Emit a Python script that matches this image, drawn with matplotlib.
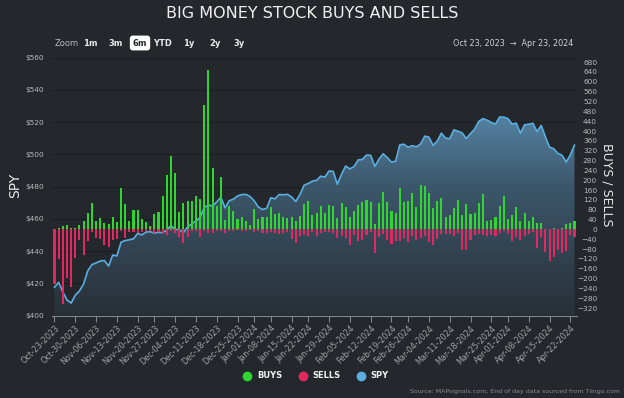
import numpy as np
import pandas as pd
import matplotlib
matplotlib.use('Agg')
import matplotlib.pyplot as plt
from matplotlib.colors import LinearSegmentedColormap
from matplotlib.lines import Line2D

# trading days Oct 23 2023 - Apr 23 2024
holidays = ['2023-11-23', '2023-12-25', '2024-01-01', '2024-01-15', '2024-02-19', '2024-03-29']
dates = pd.bdate_range('2023-10-23', '2024-04-23')
dates = dates[~dates.isin(pd.to_datetime(holidays))]
week_starts = pd.date_range('2023-10-23', '2024-04-22', freq='7D')

buys = [2, 6, 13, 17, 7, 5, 17, 33, 66, 106,
        33, 47, 25, 20, 52, 30, 167, 104, 36, 77,
        77, 41, 29, 12, 63, 72, 136, 220, 299, 228,
        71, 106, 115, 117, 136, 123, 506, 648, 249, 96,
        215, 39, 96, 75, 41, 49, 33, 17, 82, 44,
        49, 52, 93, 63, 66, 52, 47, 49, 33, 55,
        104, 117, 58, 68, 96, 68, 101, 96, 47, 106,
        90, 49, 74, 98, 112, 120, 110, 22, 106, 152,
        110, 74, 67, 169, 112, 115, 147, 93, 180, 177,
        148, 87, 115, 127, 49, 60, 85, 120, 58, 104,
        63, 66, 106, 142, 33, 39, 49, 96, 136, 44,
        60, 93, 36, 66, 36, 49, 25, 28, 3, 3,
        7, 3, 6, 22, 25, 36]

sells = [221, 120, 304, 196, 236, 116, 44, 105, 47, 12,
         36, 37, 63, 72, 43, 37, 5, 33, 9, 12,
         13, 9, 6, 5, 16, 10, 16, 21, 5, 14,
         32, 56, 29, 7, 5, 30, 7, 13, 14, 5,
         7, 13, 5, 5, 3, 5, 5, 3, 9, 5,
         14, 14, 9, 16, 20, 16, 12, 40, 55, 25,
         21, 25, 9, 25, 13, 10, 10, 13, 33, 25,
         33, 64, 21, 47, 44, 22, 9, 94, 29, 20,
         44, 58, 47, 47, 36, 52, 25, 45, 33, 25,
         52, 65, 37, 20, 20, 17, 25, 13, 82, 85,
         43, 22, 18, 21, 25, 24, 26, 16, 7, 18,
         49, 32, 45, 25, 18, 10, 75, 32, 91, 127,
         114, 83, 94, 88, 24, 29]

spy = [417.5, 420.6, 414.6, 409.6, 407.7, 412.6, 415.2, 419.6, 427.7, 431.6,
       432.6, 433.8, 434.1, 430.7, 437.5, 437.0, 445.5, 446.5, 447.0, 447.6,
       451.0, 450.0, 451.8, 452.0, 451.2, 451.7, 451.4, 453.1, 455.8, 453.4,
       453.3, 451.5, 455.0, 456.9, 458.7, 460.8, 467.1, 468.6, 467.9, 470.5,
       473.4, 466.8, 471.2, 472.2, 474.2, 475.0, 475.2, 473.8, 471.2, 467.3,
       465.8, 466.5, 473.1, 472.4, 475.1, 474.9, 475.2, 473.5, 470.8, 475.0,
       480.9, 481.9, 483.4, 483.9, 486.5, 485.9, 489.7, 489.4, 481.4, 487.7,
       492.8, 491.0, 492.4, 496.6, 496.8, 499.6, 499.4, 492.5, 497.0, 500.4,
       498.0, 495.2, 495.7, 505.9, 506.3, 504.4, 505.4, 504.7, 506.5, 511.3,
       510.7, 505.6, 508.2, 513.2, 510.1, 509.7, 515.2, 514.4, 513.3, 509.8,
       512.9, 515.7, 520.5, 522.2, 521.2, 519.8, 518.8, 523.2, 523.1, 522.2,
       518.8, 519.4, 513.1, 518.4, 518.7, 519.3, 514.1, 518.0, 510.9, 504.5,
       503.5, 500.6, 499.5, 495.2, 499.7, 505.7]

BG = '#24282c'
GREEN = '#2fd62f'
RED = '#e22860'
BLUE = '#5aaee0'
TXT = '#b8b8b8'

plt.rcParams['font.family'] = ['DejaVu Sans']

fig = plt.figure(figsize=(6.24, 3.98), dpi=100, facecolor=BG)
ax = fig.add_axes([52 / 624, 1 - 315.5 / 398, 525 / 624, 257.8 / 398])
ax.set_facecolor(BG)
ax2 = ax.twinx()

x = np.arange(len(dates))

# gradient area under SPY
cmap = LinearSegmentedColormap.from_list('spy', ['#283038', '#3c576b', '#68a6d0'])
poly = ax.fill_between(x, spy, 400, color='none', lw=0)
grad = np.linspace(0, 1, 256).reshape(-1, 1)
im = ax.imshow(grad, extent=[x[0], x[-1], 400, 560], origin='lower',
               aspect='auto', cmap=cmap, zorder=1)
im.set_clip_path(poly.get_paths()[0], transform=ax.transData)
ax.plot(x, spy, color=BLUE, lw=1.2, zorder=3)

ax2.bar(x, buys, width=0.5, color=GREEN, lw=0)
ax2.bar(x, -np.array(sells), width=0.5, color=RED, lw=0)

ax.set_xlim(-0.6, 125.6)
ax.set_ylim(400, 560)
ax2.set_ylim(-350, 698)

ax.set_yticks(range(400, 561, 20))
ax.set_yticklabels(['$%d' % v for v in range(400, 561, 20)])
ax.grid(axis='y', color='#1c1f22', lw=0.8)
ax.set_axisbelow(True)
ax2.set_yticks(range(-320, 681, 40))

tick_pos = np.searchsorted(dates, week_starts)
ax.set_xticks(tick_pos)
ax.set_xticklabels([d.strftime('%b-%d-%Y') for d in week_starts],
                   rotation=45, ha='right', va='top', rotation_mode='anchor')

for a in (ax, ax2):
    for s in a.spines.values():
        s.set_visible(False)
ax.spines['bottom'].set_visible(True)
ax.spines['bottom'].set_color('#7d8790')

ax.tick_params(axis='x', length=4, color='#7d8790', labelsize=5.8, labelcolor='#a0a0a0', pad=2)
ax.tick_params(axis='y', length=0, labelsize=5.3, labelcolor=TXT, pad=5.8)
ax2.tick_params(axis='y', length=0, labelsize=5.3, labelcolor=TXT, pad=14.5)
for t in ax2.get_yticklabels():
    t.set_ha('right')

# titles and labels
fig.text(0.5, 1 - 14 / 398, 'BIG MONEY STOCK BUYS AND SELLS', ha='center', va='center',
         fontsize=11.5, color='#f0f0f0')
fig.text(15 / 624, 1 - 185 / 398, 'SPY', rotation=90, ha='center', va='center',
         fontsize=10, color='#e6e6e6')
fig.text(607 / 624, 1 - 185 / 398, 'BUYS / SELLS', rotation=270, ha='center', va='center',
         fontsize=9, color='#e6e6e6')

# range selector row
fig.text(55 / 624, 1 - 43 / 398, 'Zoom', ha='left', va='center', fontsize=6, color=TXT)
for lab, px in [('1m', 90), ('3m', 116), ('YTD', 163), ('1y', 189), ('2y', 215), ('3y', 239)]:
    fig.text(px / 624, 1 - 43 / 398, lab, ha='center', va='center', fontsize=6,
             fontweight='bold', color='#e8e8e8')
fig.text(140 / 624, 1 - 43 / 398, '6m', ha='center', va='center', fontsize=6,
         fontweight='bold', color=BG,
         bbox=dict(boxstyle='round,pad=0.35', fc='white', ec='none'))
fig.text(573 / 624, 1 - 43 / 398, 'Oct 23, 2023  \u2192  Apr 23, 2024', ha='right', va='center',
         fontsize=5.8, color='#d0d0d0')

# legend
handles = [Line2D([], [], ls='none', marker='o', ms=6, mfc=c, mec=c) for c in (GREEN, RED, BLUE)]
leg = fig.legend(handles, ['BUYS', 'SELLS', 'SPY'], loc='center', bbox_to_anchor=(314 / 624, 1 - 376 / 398),
                 ncol=3, frameon=False, handletextpad=0.2, columnspacing=1.4,
                 prop={'size': 6, 'weight': 'bold'}, labelcolor='#f0f0f0')

fig.text(620 / 624, 1 - 392 / 398, 'Source: MAPsignals.com, End of day data sourced from Tiingo.com',
         ha='right', va='center', fontsize=4.5, color='#8a8a8a')

fig.savefig('out.png', dpi=100, facecolor=BG)
